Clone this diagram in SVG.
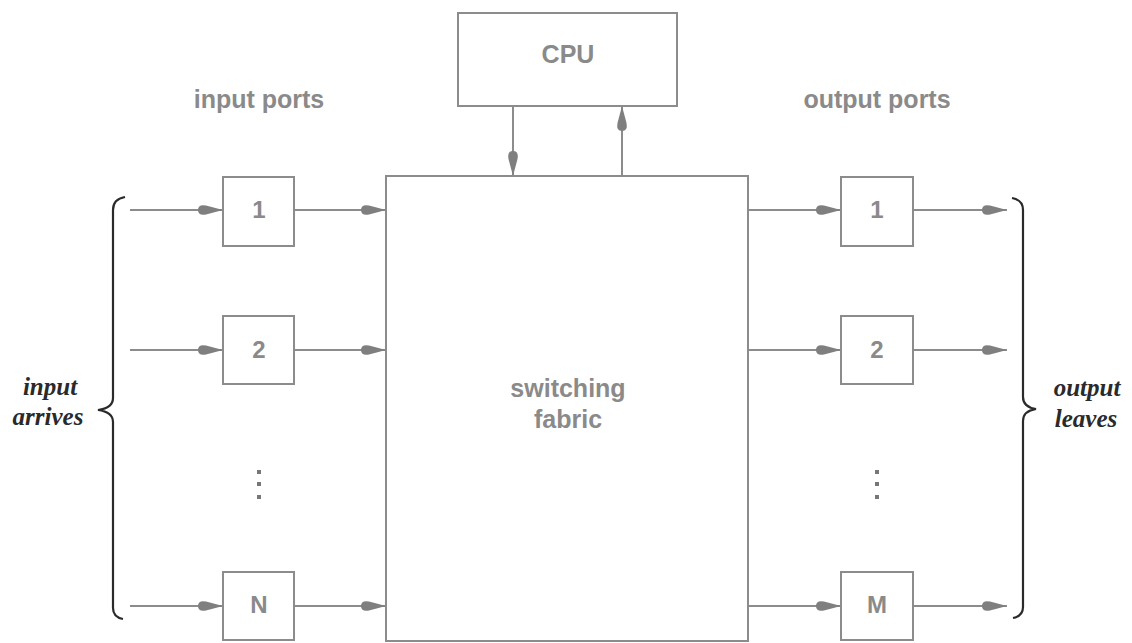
<svg xmlns="http://www.w3.org/2000/svg" width="1132" height="643" viewBox="0 0 1132 643">
  <style>
    .box { fill: #ffffff; stroke: #8c8c8c; stroke-width: 2; }
    .lbl { font-family: "Liberation Sans", Arial, sans-serif; font-weight: bold; fill: #8a8a8a; text-anchor: middle; }
    .big { font-size: 25px; }
    .num { font-size: 24px; }
    .link { stroke: #8c8c8c; stroke-width: 2; fill: none; }
    .brace { stroke: #2a2a2a; stroke-width: 2.2; fill: none; }
    .side { font-family: "Liberation Serif", "Times New Roman", serif; font-style: italic; font-weight: bold; font-size: 25px; fill: #2a2a2a; text-anchor: middle; }
    .dot { fill: #777; }
  </style>
  <defs>
    <marker id="head" viewBox="0 0 26 12" refX="26" refY="6" markerWidth="26" markerHeight="12" markerUnits="userSpaceOnUse" orient="auto">
      <path d="M26,6 L9,1.5 Q1,0 1,6 Q1,12 9,10.5 Z" fill="#7f7f7f"/>
    </marker>
  </defs>
  <rect width="1132" height="643" fill="#ffffff"/>

  <!-- connectors -->
  <g id="connectors">
    <line class="link" x1="513" y1="106" x2="513" y2="176" marker-end="url(#head)"/>
    <line class="link" x1="622" y1="176" x2="622" y2="106" marker-end="url(#head)"/>

    <line class="link" x1="130" y1="210" x2="223" y2="210" marker-end="url(#head)"/>
    <line class="link" x1="294" y1="210" x2="386" y2="210" marker-end="url(#head)"/>
    <line class="link" x1="130" y1="350" x2="223" y2="350" marker-end="url(#head)"/>
    <line class="link" x1="294" y1="350" x2="386" y2="350" marker-end="url(#head)"/>
    <line class="link" x1="130" y1="606" x2="223" y2="606" marker-end="url(#head)"/>
    <line class="link" x1="294" y1="606" x2="386" y2="606" marker-end="url(#head)"/>

    <line class="link" x1="748" y1="210" x2="841" y2="210" marker-end="url(#head)"/>
    <line class="link" x1="913" y1="210" x2="1007" y2="210" marker-end="url(#head)"/>
    <line class="link" x1="748" y1="350" x2="841" y2="350" marker-end="url(#head)"/>
    <line class="link" x1="913" y1="350" x2="1007" y2="350" marker-end="url(#head)"/>
    <line class="link" x1="748" y1="606" x2="841" y2="606" marker-end="url(#head)"/>
    <line class="link" x1="913" y1="606" x2="1007" y2="606" marker-end="url(#head)"/>
  </g>

  <!-- CPU -->
  <g id="cpu">
    <rect class="box" x="458" y="13" width="219" height="93"/>
    <text class="lbl big" x="568" y="63">CPU</text>
  </g>

  <!-- switching fabric -->
  <g id="fabric">
    <rect class="box" x="386" y="176" width="362" height="465"/>
    <text class="lbl big" x="568" y="397">switching</text>
    <text class="lbl big" x="568" y="428">fabric</text>
  </g>

  <!-- port labels -->
  <g id="input-ports-label">
    <text class="lbl big" x="259" y="108">input ports</text>
  </g>
  <g id="output-ports-label">
    <text class="lbl big" x="877" y="108">output ports</text>
  </g>

  <!-- input ports -->
  <g id="in1">
    <rect class="box" x="223" y="177" width="71" height="69"/>
    <text class="lbl num" x="259" y="218">1</text>
  </g>
  <g id="in2">
    <rect class="box" x="223" y="316" width="71" height="68"/>
    <text class="lbl num" x="259" y="358">2</text>
  </g>
  <g id="in-dots">
    <rect class="dot" x="257" y="470" width="4" height="4"/>
    <rect class="dot" x="257" y="482" width="4" height="4"/>
    <rect class="dot" x="257" y="495" width="4" height="4"/>
  </g>
  <g id="inN">
    <rect class="box" x="223" y="572" width="71" height="68"/>
    <text class="lbl num" x="259" y="613">N</text>
  </g>

  <!-- output ports -->
  <g id="out1">
    <rect class="box" x="841" y="177" width="72" height="69"/>
    <text class="lbl num" x="877" y="218">1</text>
  </g>
  <g id="out2">
    <rect class="box" x="841" y="316" width="72" height="68"/>
    <text class="lbl num" x="877" y="358">2</text>
  </g>
  <g id="out-dots">
    <rect class="dot" x="875" y="470" width="4" height="4"/>
    <rect class="dot" x="875" y="482" width="4" height="4"/>
    <rect class="dot" x="875" y="495" width="4" height="4"/>
  </g>
  <g id="outM">
    <rect class="box" x="841" y="572" width="72" height="68"/>
    <text class="lbl num" x="877" y="613">M</text>
  </g>

  <!-- braces with captions -->
  <g id="input-brace">
    <path class="brace" d="M125,197 Q113,199 113,210 L113,398 Q113,408 98,410 Q113,412 113,422 L113,608 Q113,617 123,619"/>
    <text class="side" x="50" y="395">input</text>
    <text class="side" x="48" y="425">arrives</text>
  </g>
  <g id="output-brace">
    <path class="brace" d="M1012,198 Q1023,200 1023,210 L1023,397 Q1023,407 1036,409 Q1023,411 1023,421 L1023,607 Q1023,616 1013,618"/>
    <text class="side" x="1087" y="396">output</text>
    <text class="side" x="1086" y="427">leaves</text>
  </g>
</svg>
